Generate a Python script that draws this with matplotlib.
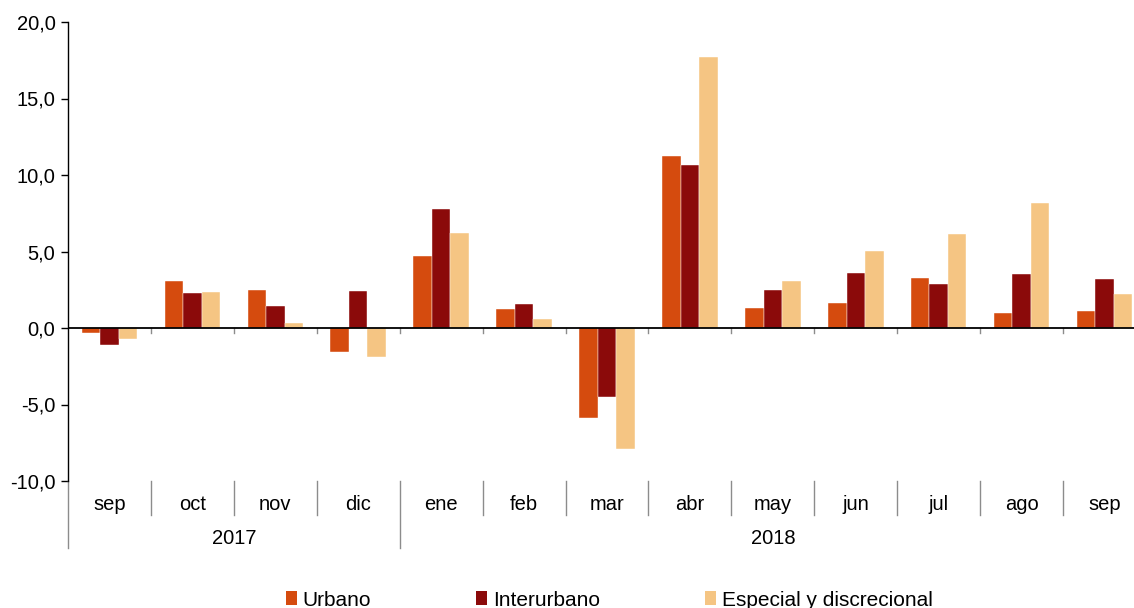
import numpy as np
import matplotlib.pyplot as plt
from matplotlib.patches import Patch
import matplotlib.transforms as mtransforms

plt.rcParams['font.family'] = ['Liberation Sans', 'DejaVu Sans']

# Datos (variacion, %)
meses = ["sep", "oct", "nov", "dic", "ene", "feb", "mar", "abr",
         "may", "jun", "jul", "ago", "sep"]
anios = ["2017", "2018"]
meses_por_anio = [4, 9]

urbano = [-0.33, 3.10, 2.48, -1.54, 4.70, 1.21, -5.86, 11.21,
          1.29, 1.61, 3.25, 0.98, 1.10]
interurbano = [-1.10, 2.27, 1.43, 2.41, 7.76, 1.54, -4.51, 10.63,
               2.50, 3.57, 2.85, 3.50, 3.18]
especial = [-0.70, 2.34, 0.33, -1.87, 6.24, 0.61, -7.92, 17.71,
            3.04, 5.05, 6.17, 8.18, 2.20]

series = [("Urbano", urbano, "#D54B0E"),
          ("Interurbano", interurbano, "#8B0A0A"),
          ("Especial y discrecional", especial, "#F5C583")]

fig = plt.figure(figsize=(11.34, 6.08), dpi=100)
ax = fig.add_axes([68 / 1134, 127 / 608, 1078 / 1134, 459 / 608])

x = np.arange(len(meses))
ancho = 0.223
for k, (nombre, valores, color) in enumerate(series):
    ax.bar(x + (k - 1) * ancho, valores, ancho, color=color,
           edgecolor="white", linewidth=0.3, label=nombre, zorder=2)

ax.set_xlim(-0.5, len(meses) - 0.5)
ax.set_ylim(-10, 20)
ax.set_yticks(np.arange(-10, 21, 5))
ax.set_yticklabels([f"{v:.1f}".replace(".", ",") for v in np.arange(-10, 21, 5)])
ax.tick_params(axis="y", direction="out", length=5, width=1, colors="black",
               labelsize=14.5, pad=4)
ax.set_xticks([])

for lado in ["top", "right", "bottom"]:
    ax.spines[lado].set_visible(False)
ax.spines["left"].set_color("black")
ax.spines["left"].set_linewidth(1)

# linea del cero
ax.axhline(0, color="black", linewidth=1.3, zorder=3)

trans = mtransforms.blended_transform_factory(ax.transData, ax.transAxes)
gris = "#8C8C8C"
cero_ax = 10 / 30
for b in np.arange(0.5, len(meses) - 0.5):
    # marcas pequenas sobre el eje cero
    ax.plot([b, b], [cero_ax, cero_ax - 5 / 459], transform=trans,
            color=gris, linewidth=1, clip_on=False)

# separadores de meses y anios
limites_anio = np.cumsum([0] + meses_por_anio) - 0.5
for b in np.arange(0.5, len(meses) - 0.5):
    if b in limites_anio:
        continue
    ax.plot([b, b], [0, -34 / 459], transform=trans, color=gris,
            linewidth=1, clip_on=False)
for b in limites_anio[:-1]:
    ax.plot([b, b], [0, -67 / 459], transform=trans, color=gris,
            linewidth=1, clip_on=False)

for i, m in enumerate(meses):
    ax.text(i, -24 / 459, m, transform=trans, ha="center", va="center",
            fontsize=14.5)
for j, a in enumerate(anios):
    centro = (limites_anio[j] + limites_anio[j + 1]) / 2
    ax.text(centro, -58 / 459, a, transform=trans, ha="center",
            va="center", fontsize=14.5)

handles = [Patch(facecolor=c, edgecolor="none") for _, _, c in series]
fig.legend(handles, [s[0] for s in series], loc="center",
           bbox_to_anchor=(609 / 1134, 8 / 608), ncol=3, frameon=False,
           fontsize=15, handlelength=0.55, handleheight=0.65,
           handletextpad=0.25, columnspacing=5.05, borderpad=0, borderaxespad=0)

fig.savefig("out.png", dpi=100)
